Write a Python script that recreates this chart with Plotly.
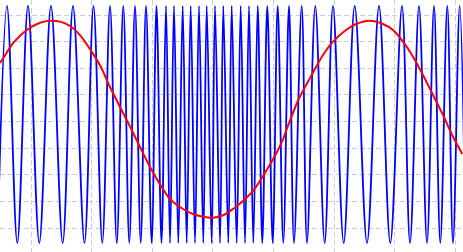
import plotly.graph_objects as go

# Blue FM carrier: sample positions of its crests (+1) and troughs (-1)
blue_peak_x = [7, 28, 51, 73, 93.5, 110, 123.3, 135, 146, 156.5, 166, 174, 182.7, 190.7,
               199, 206.7, 215, 223.3, 231.7, 240.7, 249, 257.7, 267.3, 277.7, 289, 301.7,
               315.3, 333, 354.7, 379, 402, 419, 434, 447.3, 459.7]
blue_trough_x = [-2.5, 17.3, 39.3, 62.7, 84.5, 102.3, 116.8, 129.3, 140.7, 151.7, 161.5, 170,
                 178.3, 186.7, 195, 203.3, 211.7, 220, 228.3, 236.7, 245, 253.3, 262.3, 272.7,
                 283.3, 294, 307, 324.7, 343.7, 367, 390.3, 410, 427, 440.3, 453, 465.5]
blue_peak_val = 1.0
blue_trough_val = -1.0

# Red modulating signal
red_x = [0, 3.3, 13.3, 26.7, 40, 50, 60, 70, 80, 100, 110, 120, 130, 140, 150, 160, 170,
         183, 193, 203, 213, 223, 233, 243, 253, 263, 273, 283, 288.3, 298.3, 310, 323, 333,
         346, 356, 370, 383, 393, 403, 413, 423, 433, 443, 453, 462.3]
red_y = [0.519, 0.561, 0.688, 0.797, 0.859, 0.876, 0.868, 0.831, 0.755, 0.500, 0.316, 0.148,
         -0.017, -0.190, -0.359, -0.506, -0.629, -0.713, -0.755, -0.778, -0.786, -0.766,
         -0.713, -0.646, -0.561, -0.435, -0.294, -0.125, -0.004, 0.207, 0.392, 0.586, 0.699,
         0.797, 0.848, 0.876, 0.848, 0.797, 0.699, 0.572, 0.418, 0.249, 0.080, -0.103, -0.249]

pts = sorted([(x, blue_peak_val) for x in blue_peak_x] +
             [(x, blue_trough_val) for x in blue_trough_x])
blue_x = [p[0] for p in pts]
blue_y = [p[1] for p in pts]

fig = go.Figure()
fig.add_trace(go.Scatter(x=blue_x, y=blue_y, mode="lines",
                         line=dict(color="#0000ff", width=1.8, shape="spline", smoothing=1.0),
                         hoverinfo="skip", showlegend=False))
fig.add_trace(go.Scatter(x=red_x, y=red_y, mode="lines",
                         line=dict(color="#ff0000", width=2, shape="spline", smoothing=0.8),
                         hoverinfo="skip", showlegend=False))

grid = dict(showticklabels=False, ticks="", zeroline=False, showline=False,
            showgrid=True, gridcolor="#cfcfcf", gridwidth=1, griddash="5px,3px",
            tickmode="linear")
fig.update_layout(
    width=463, height=252, margin=dict(l=0, r=0, t=0, b=0),
    paper_bgcolor="white", plot_bgcolor="white", showlegend=False,
    xaxis=dict(range=[0, 463], tick0=31, dtick=60.6, **grid),
    yaxis=dict(range=[-1.07595, 1.05063], tick0=0.92405, dtick=0.224684, **grid),
)
fig.write_html("out.html")
